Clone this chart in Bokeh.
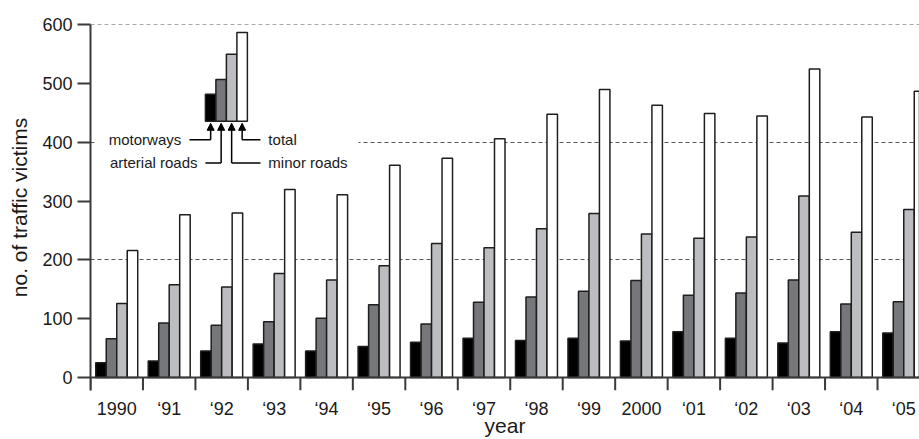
from bokeh.plotting import figure
from bokeh.models import FixedTicker, Range1d, Arrow, NormalHead, Span
from bokeh.embed import file_html
from bokeh.resources import INLINE
from bokeh.core.properties import value

# ---- data ----
years = ["1990", "\u201891", "\u201892", "\u201893", "\u201894", "\u201895", "\u201896", "\u201897",
         "\u201898", "\u201899", "2000", "\u201801", "\u201802", "\u201803", "\u201804", "\u201805"]
motorways = [25, 28, 45, 57, 45, 53, 60, 67, 63, 67, 62, 78, 67, 59, 78, 76]
arterial_roads = [66, 93, 89, 95, 101, 124, 91, 128, 137, 147, 165, 140, 144, 166, 125, 129]
minor_roads = [126, 158, 154, 177, 166, 190, 228, 221, 253, 279, 244, 237, 239, 309, 247, 286]
total = [216, 277, 280, 320, 311, 361, 373, 406, 448, 490, 463, 449, 445, 525, 443, 487]
series_names = ["motorways", "arterial roads", "minor roads", "total"]
legend_sample = [46, 71, 114, 151]
y_ticks = [0, 100, 200, 300, 400, 500, 600]
grid_ticks = [200, 400, 600]

FONT = "Liberation Sans"
colors = ["#000000", "#76777b", "#bcbdc1", "#ffffff"]
edge = "#1e1e1e"
axis_col = "#3a3a3a"
text_col = "#1a1a1a"

n = len(years)
p = figure(width=919, height=439, output_backend="svg", toolbar_location=None,
           x_range=Range1d(0, 15.8), y_range=Range1d(-22, 600.5),
           min_border_left=90, min_border_right=0, min_border_top=24, min_border_bottom=48)
p.outline_line_color = None
p.background_fill_color = "white"

# grid
p.xgrid.visible = False
p.ygrid.ticker = FixedTicker(ticks=grid_ticks)
p.ygrid.grid_line_color = "#555555"
p.ygrid.grid_line_dash = "4 3"
p.ygrid.grid_line_width = 1

# y axis
ya = p.yaxis[0]
ya.ticker = FixedTicker(ticks=y_ticks)
ya.axis_line_width = 2
ya.axis_line_color = axis_col
ya.major_tick_line_color = axis_col
ya.major_tick_line_width = 2
ya.major_tick_out = 13
ya.major_tick_in = 0
ya.minor_tick_line_color = None
ya.major_label_standoff = 5
ya.major_label_text_font = FONT
ya.major_label_text_font_size = "18px"
ya.major_label_text_color = text_col
ya.axis_label = "no. of traffic victims"
ya.axis_label_text_font = FONT
ya.axis_label_text_font_size = "21px"
ya.axis_label_text_font_style = "normal"
ya.axis_label_text_color = text_col
ya.axis_label_standoff = 8

# x axis: labels at group centres only
xa = p.xaxis[0]
centres = [i + 0.5 for i in range(n)]
xa.ticker = FixedTicker(ticks=centres)
xa.major_label_overrides = {c: y for c, y in zip(centres, years)}
xa.axis_line_color = None
xa.major_tick_line_color = None
xa.minor_tick_line_color = None
xa.major_tick_out = 0
xa.major_tick_in = 0
xa.major_label_standoff = 8
xa.major_label_text_font = FONT
xa.major_label_text_font_size = "18px"
xa.major_label_text_color = text_col
xa.axis_label = "year"
xa.axis_label_text_font = FONT
xa.axis_label_text_font_size = "21px"
xa.axis_label_text_font_style = "normal"
xa.axis_label_text_color = text_col
xa.axis_label_standoff = -8

# white box behind the key (hides the 400 grid line there)
p.quad(left=0.08, right=5.11, bottom=344, top=595, fill_color="white", line_color=None)

# bars
bar_w = 0.2
for j, vals in enumerate([motorways, arterial_roads, minor_roads, total]):
    xs = [i + 0.2 + bar_w * j for i in range(n)]
    p.vbar(x=xs, top=vals, bottom=0, width=bar_w, fill_color=colors[j],
           line_color=edge, line_width=1.5)

# baseline and group dividers
p.add_layout(Span(location=0, dimension="width", line_color=axis_col, line_width=2))
p.segment(x0=list(range(n + 1)), y0=[0] * (n + 1), x1=list(range(n + 1)), y1=[-22] * (n + 1),
          line_color=axis_col, line_width=2)

# ---- key ----
kx = 2.19          # left edge of key bars
kbase = 436        # base of key bars
kcent = [kx + bar_w * (j + 0.5) for j in range(4)]
p.vbar(x=kcent, bottom=kbase, top=[kbase + h for h in legend_sample], width=bar_w,
       fill_color=colors, line_color=edge, line_width=1.5)

y_hi, y_lo = 404.6, 365
tip = kbase - 3.5
arrow_starts = [y_hi, y_lo, y_lo, y_hi]
for xc, ys in zip(kcent, arrow_starts):
    p.add_layout(Arrow(end=NormalHead(size=7, fill_color="black", line_color="black", line_width=1),
                       x_start=xc, y_start=ys, x_end=xc, y_end=tip,
                       line_color="black", line_width=1.5))
p.multi_line(xs=[[1.887, kcent[0]], [2.19, kcent[1]], [kcent[2], 3.24], [kcent[3], 3.24]],
             ys=[[y_hi, y_hi], [y_lo, y_lo], [y_lo, y_lo], [y_hi, y_hi]],
             line_color="black", line_width=1.5)
p.text(x=[1.73, 2.04], y=[y_hi, y_lo], text=[series_names[0], series_names[1]],
       text_align="right", text_baseline="middle", text_font=value(FONT),
       text_font_size="15px", text_color=text_col)
p.text(x=[3.39, 3.39], y=[y_hi, y_lo], text=[series_names[3], series_names[2]],
       text_align="left", text_baseline="middle", text_font=value(FONT),
       text_font_size="15px", text_color=text_col)

open("out.html", "w").write(file_html(p, INLINE))
